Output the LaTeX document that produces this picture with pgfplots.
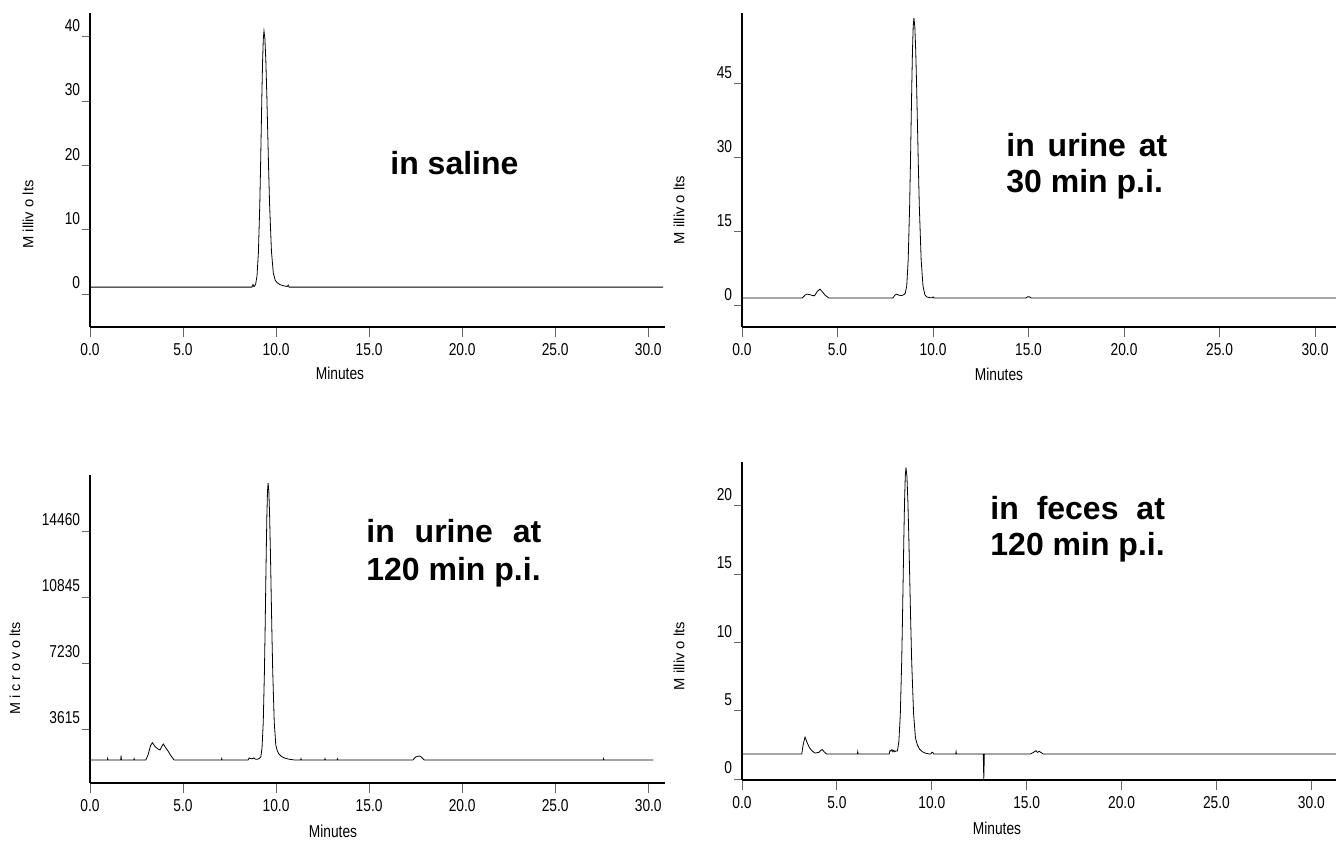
\documentclass[border=0pt]{standalone}
\usepackage{pgfplots}
\pgfplotsset{compat=1.18}
\usepackage{fontspec}
\setmainfont{Liberation Sans}
\newfontfamily\tickfont[FakeStretch=0.8]{Liberation Sans}
\pgfplotsset{
  chrom/.style={
    scale only axis,
    axis x line=bottom, axis y line=left,
    axis line style={line width=0.9pt,-},
    tick align=outside,
    xtick style={line width=0.5pt, black!60, /pgfplots/major tick length=5pt},
    ytick style={line width=0.5pt, black!60, /pgfplots/major tick length=4pt},
    minor tick num=0,
    scaled y ticks=false, scaled x ticks=false,
    xmin=0,
    xtick={0,5,10,15,20,25,30},
    xticklabels={0.0,5.0,10.0,15.0,20.0,25.0,30.0},
    xticklabel style={font=\fontsize{8.6}{9}\tickfont, inner sep=3.6pt},
    yticklabel style={font=\fontsize{8.6}{9}\tickfont, anchor=south east, inner sep=0pt, yshift=2.4pt, xshift=-0.5pt},
    cycle list={{black, line width=0.6pt, mark=none, line join=round}},
  }
}
\begin{document}
\begin{tikzpicture}
\path[use as bounding box] (0,0) rectangle (668pt,423pt);

% ---------- Panel 1: in saline ----------
\begin{axis}[chrom, at={(45pt,259.5pt)}, anchor=south west,
  width=287.5pt, height=157pt, xmax=30.9, ymin=-5.1, ymax=43.7,
  ytick={0,10,20,30,40}, yticklabels={0,10,20,30,40}]
\addplot coordinates {
(0,1.1) (8.70,1.1) (8.76,1.5) (8.80,1.2) (8.825,1.19) (8.90,1.54) (8.975,2.85)
(9.05,6.48) (9.125,14.02) (9.1625,19.32) (9.20,25.24) (9.2375,31.14) (9.275,36.22)
(9.3125,39.67) (9.35,40.9) (9.40,39.67) (9.45,36.22) (9.50,31.14) (9.55,25.24)
(9.60,19.32) (9.65,14.02) (9.75,6.7) (9.85,3.3) (9.95,2.2) (10.05,1.8) (10.2,1.5)
(10.4,1.3) (10.6,1.2) (10.65,1.4) (10.7,1.1) (30.8,1.1)
};
\end{axis}

% ---------- Panel 2: urine 30 min ----------
\begin{axis}[chrom, at={(371pt,259.5pt)}, anchor=south west,
  width=297pt, height=157pt, xmax=31.1, ymin=-4.25, ymax=59.3,
  ytick={0,15,30,45}, yticklabels={0,15,30,45}]
\addplot coordinates {
(0,1.6) (3.15,1.6) (3.3,2.2) (3.4,2.4) (3.55,2.3) (3.7,2.1) (3.8,2.1) (3.95,3.0)
(4.08,3.4) (4.2,2.9) (4.35,2.2) (4.55,1.6) (7.9,1.6) (8.0,2.2) (8.1,2.4) (8.2,2.2)
(8.35,2.1) (8.475,2.3) (8.55,2.6) (8.625,4.09) (8.70,9.27) (8.775,20.01)
(8.8125,27.56) (8.85,35.99) (8.8875,44.40) (8.925,51.64) (8.9625,56.54) (9.0,58.3)
(9.0475,56.54) (9.095,51.64) (9.1425,44.40) (9.19,35.99) (9.2375,27.56)
(9.285,20.01) (9.38,9.27) (9.475,4.09) (9.57,2.3) (9.665,1.85) (9.8,1.7)
(9.95,1.65) (10.0,1.85) (10.05,1.6) (14.85,1.6) (14.95,1.85) (15.05,1.85)
(15.15,1.6) (31.1,1.6)
};
\end{axis}

% ---------- Panel 3: urine 120 min ----------
\begin{axis}[chrom, at={(45pt,31.5pt)}, anchor=south west,
  width=287.5pt, height=154pt, xmax=30.9, ymin=657, ymax=17530,
  ytick={3615,7230,10845,14460}, yticklabels={3615,7230,10845,14460}]
\addplot coordinates {
(0,1918) (0.93,1918) (0.95,2010) (0.97,1918) (1.65,1918) (1.67,2150) (1.69,1918)
(2.35,1918) (2.37,1990) (2.39,1918) (3.0,1918) (3.12,2200) (3.25,2700) (3.35,2865)
(3.5,2650) (3.65,2520) (3.76,2465) (3.85,2650) (3.94,2793) (4.05,2620) (4.2,2400)
(4.35,2150) (4.52,1918) (7.06,1918) (7.08,1990) (7.10,1918) (8.5,1918) (8.55,2030)
(8.62,2000) (8.7,1980) (8.8,2030) (8.9,1960) (9.0,1960) (9.1,2000) (9.18,2086)
(9.245,2584) (9.31,3971) (9.375,6844) (9.4075,8864) (9.44,11120) (9.4725,13370)
(9.505,15307) (9.5375,16620) (9.57,17090) (9.611,16620) (9.6525,15307)
(9.694,13370) (9.735,11120) (9.776,8864) (9.8175,6844) (9.90,4000) (9.9825,2750)
(10.065,2420) (10.15,2250) (10.3,2100) (10.5,2010) (10.7,1960) (10.9,1930)
(11.0,1918) (11.32,1918) (11.34,1990) (11.36,1918) (12.61,1918) (12.63,1990)
(12.65,1918) (13.28,1918) (13.3,1980) (13.32,1918) (17.35,1918) (17.5,2080)
(17.6,2120) (17.7,2135) (17.8,2080) (17.96,1918) (27.58,1918) (27.6,1990)
(27.62,1918) (30.27,1918)
};
\end{axis}

% ---------- Panel 4: feces 120 min ----------
\begin{axis}[chrom, at={(371pt,33pt)}, anchor=south west,
  width=297pt, height=159pt, xmax=31.3, ymin=-0.07, ymax=23.2,
  ytick={0,5,10,15,20}, yticklabels={0,5,10,15,20}]
\addplot coordinates {
(0,1.83) (3.15,1.83) (3.22,2.5) (3.32,3.07) (3.42,2.7) (3.55,2.3) (3.7,2.05)
(3.85,1.9) (4.05,1.95) (4.15,2.1) (4.23,2.16) (4.32,2.0) (4.46,1.83) (6.08,1.83)
(6.1,2.0) (6.12,1.83) (7.75,1.83) (7.8,2.1) (7.85,2.05) (7.9,2.15) (7.95,2.0)
(8.0,2.1) (8.05,2.0) (8.1,2.05) (8.19,2.06) (8.265,2.75) (8.34,4.67) (8.415,8.64)
(8.4525,11.43) (8.49,14.55) (8.5275,17.66) (8.565,20.34) (8.6025,22.15) (8.64,22.8)
(8.69,22.15) (8.74,20.34) (8.79,17.66) (8.84,14.55) (8.89,11.43) (8.94,8.64)
(9.04,4.8) (9.14,3.0) (9.24,2.5) (9.35,2.2) (9.5,2.0) (9.65,1.9) (9.8,1.85)
(9.95,1.83) (10.0,1.95) (10.05,1.95) (10.1,1.83) (11.26,1.83) (11.28,2.0)
(11.3,1.83) (12.71,1.83) (12.74,0.0) (12.77,1.83) (15.2,1.83) (15.35,1.95)
(15.49,2.07) (15.57,1.95) (15.66,2.03) (15.87,1.83) (31.3,1.83)
};
\end{axis}

% ---------- axis titles ----------
\begin{scope}[every node/.style={inner sep=0pt}]
\node[font=\fontsize{8.6}{9}\tickfont] at (170pt,236.5pt) {Minutes};
\node[font=\fontsize{8.6}{9}\tickfont] at (499.5pt,236pt) {Minutes};
\node[font=\fontsize{8.6}{9}\tickfont] at (166.5pt,7.5pt) {Minutes};
\node[font=\fontsize{8.6}{9}\tickfont] at (498.5pt,9pt) {Minutes};

\node[font=\fontsize{7.4}{8}\selectfont, rotate=90] at (14pt,315.75pt) {M illiv o lts};
\node[font=\fontsize{7.4}{8}\selectfont, rotate=90] at (339.5pt,318pt) {M illiv o lts};
\node[font=\fontsize{7.2}{8}\selectfont, rotate=90] at (7.5pt,88.75pt) {M i c r o v o lts};
\node[font=\fontsize{7.4}{8}\selectfont, rotate=90] at (339.5pt,95pt) {M illiv o lts};

% ---------- annotations ----------
\node[font=\fontsize{16}{19}\bfseries, anchor=base west] at (195pt,335.5pt) {in saline};
\node[font=\fontsize{16}{19}\bfseries, anchor=base west] at (503pt,344.5pt) {in\hspace{2pt} urine\hspace{2pt} at};
\node[font=\fontsize{16}{19}\bfseries, anchor=base west] at (503pt,326.5pt) {30 min p.i.};
\node[font=\fontsize{16}{19}\bfseries, anchor=base west] at (183pt,152pt) {in\hspace{5.5pt} urine\hspace{5.5pt} at};
\node[font=\fontsize{16}{19}\bfseries, anchor=base west] at (183pt,133pt) {120 min p.i.};
\node[font=\fontsize{16}{19}\bfseries, anchor=base west] at (495pt,163.5pt) {in\hspace{4.5pt} feces\hspace{4.5pt} at};
\node[font=\fontsize{16}{19}\bfseries, anchor=base west] at (495pt,145.5pt) {120 min p.i.};
\end{scope}
\end{tikzpicture}
\end{document}
